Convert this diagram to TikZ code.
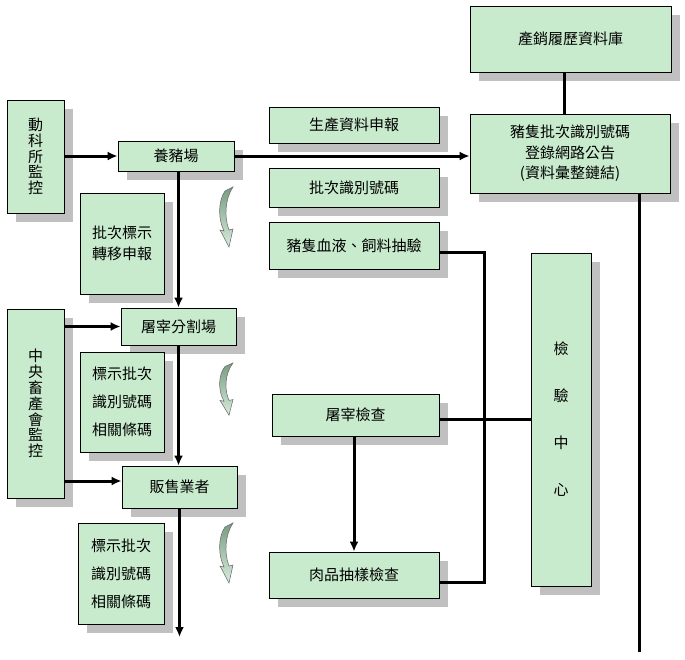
\documentclass[tikz,border=0pt]{standalone}
\usepackage{fontspec}
\setmainfont{Noto Sans CJK TC}
\usetikzlibrary{
  arrows.meta, % for the arrow heads
  shadows,
}
\definecolor{boxgreen}{RGB}{200,235,205}
\definecolor{shadegray}{RGB}{192,192,192}
\definecolor{ribbondark}{RGB}{120,156,130}
\definecolor{ribbonlight}{RGB}{214,236,218}
\newcommand{\boxfont}{\fontsize{15}{20.5}\selectfont}
\newcommand{\stackfont}{\fontsize{15}{15.8}\selectfont}
\newcommand{\notefont}{\fontsize{15}{28}\selectfont}
\newcommand{\labfont}{\fontsize{15}{47}\selectfont}

\begin{document}
\begin{tikzpicture}[x=1pt, y=-1pt,
    box/.style={draw, line width=0.8pt, fill=boxgreen, inner sep=0pt,
      align=center, font=\boxfont,
      drop shadow={shadow xshift=9pt, shadow yshift=-9pt,
        fill=shadegray, opacity=1}},
    boxsize/.style 2 args={minimum width=#1pt, minimum height=#2pt},
    flow/.style={line width=3pt, -{Latex[length=10pt, width=9pt]}},
    link/.style={line width=3pt},
    turnarrow/.pic={
      \draw[line width=0.5pt, draw=black!60, top color=ribbondark,
        bottom color=ribbonlight]
        (15,0) -- (7,4) .. controls (0,14) and (0,32) .. (6,44)
        -- (2,43) -- (11,60) -- (15,42) -- (11,43)
        .. controls (6,30) and (7,12) .. cycle;
    },
  ]
  \useasboundingbox (0,0) rectangle (685,659);

  % left column
  \node[box, boxsize={57}{113}, font=\stackfont] (ati) at (35.5,156.5) {動\\科\\所\\監\\控};
  \node[box, boxsize={57}{189}, font=\stackfont] (naif) at (35.5,403.5) {中\\央\\畜\\產\\會\\監\\控};

  % main chain
  \node[box, boxsize={116}{30}] (farm) at (176,156) {養豬場};
  \node[box, boxsize={115}{37}] (slaughter) at (178.5,326.5) {屠宰分割場};
  \node[box, boxsize={115}{42}] (seller) at (179.5,487) {販售業者};

  \node[box, boxsize={84}{101}] (note1) at (122,243.5) {批次標示\\轉移申報};
  \node[box, boxsize={84}{100}, align=left, font=\notefont] (note2) at (122,402) {標示批次\\識別號碼\\相關條碼};
  \node[box, boxsize={86}{101}, align=left, font=\notefont] (note3) at (121,573.5) {標示批次\\識別號碼\\相關條碼};

  \pic at (218,187) {turnarrow};
  \pic[yscale=0.87] at (218,363) {turnarrow};
  \pic at (218,523) {turnarrow};

  % middle column
  \node[box, boxsize={170}{36}] (report) at (354,125) {生產資料申報};
  \node[box, boxsize={170}{39}] (batch) at (354,187.5) {批次識別號碼};
  \node[box, boxsize={170}{47}] (blood) at (354,245.5) {豬隻血液、飼料抽驗};
  \node[box, boxsize={167}{42}] (inspect) at (355.5,415) {屠宰檢查};
  \node[box, boxsize={170}{46}] (meat) at (354,575) {肉品抽樣檢查};

  % right column
  \node[box, boxsize={60}{333}, font=\labfont] (lab) at (561,419.5) {檢\\驗\\中\\心};
  \node[box, boxsize={201}{66}] (db) at (570.5,39) {產銷履歷資料庫};
  \node[box, boxsize={200}{79}] (net) at (570,153.5) {豬隻批次識別號碼\\登錄網路公告\\(資料彙整鏈結)};

  \coordinate (tail) at (639,652);
  \coordinate (exit) at (179.5,637);
  \coordinate (bus) at (484,419);

  % connectors
  \draw[flow] (ati.east |- farm.west) -- (farm.west);
  \draw[flow] (farm.east) -- (farm.east -| net.west);
  \draw[link] ([xshift=-6pt]db.south) -- ([xshift=-6pt]db.south |- net.north);
  \draw[link] (net.south -| tail) -- (tail);
  \draw[flow] (farm.south -| slaughter.north) -- (slaughter.north);
  \draw[flow] (slaughter.south) -- (slaughter.south |- seller.north);
  \draw[flow] (seller.south) -- (exit);
  \draw[flow] (naif.east |- slaughter.west) -- (slaughter.west);
  \draw[flow] ([yshift=6pt]naif.east |- seller.west) -- ([yshift=6pt]seller.west);
  \draw[link] ([yshift=-7pt]blood.east) -| (bus) |- ([yshift=-7pt]meat.east);
  \draw[link] (inspect.east |- lab.west) -- (lab.west);
  \draw[flow] (inspect.south -| meat.north) -- (meat.north);
\end{tikzpicture}
\end{document}
